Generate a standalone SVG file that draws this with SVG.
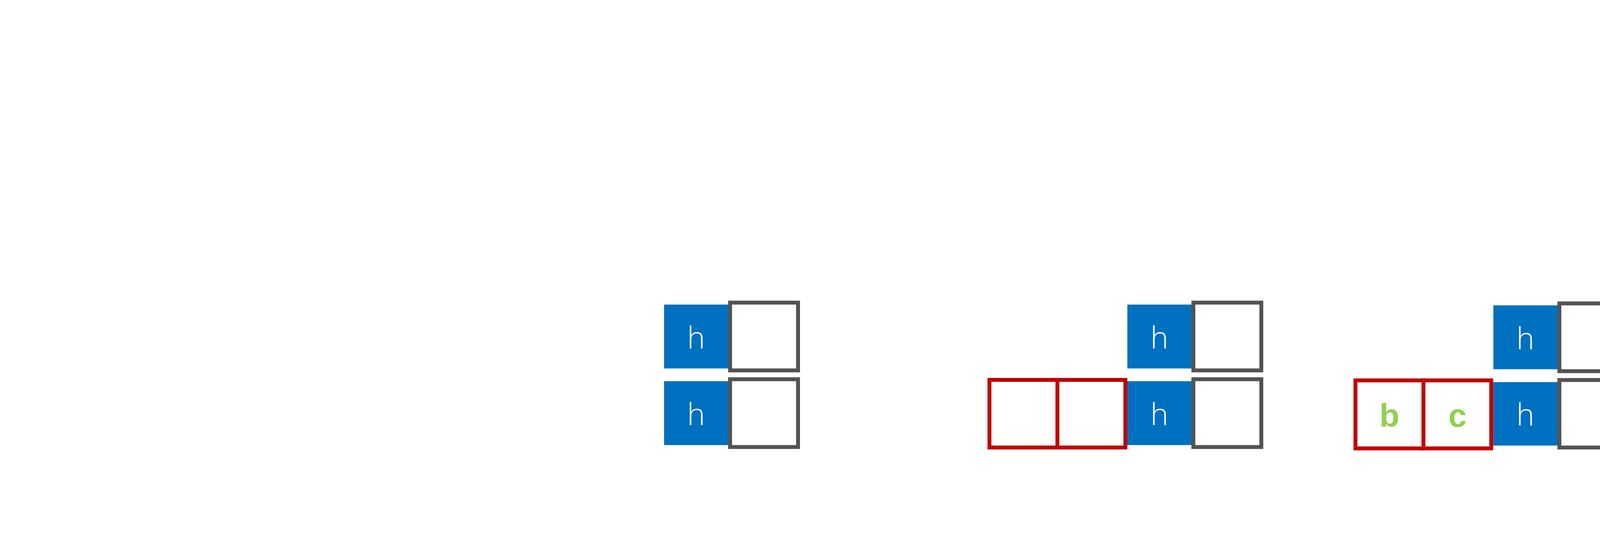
<svg xmlns="http://www.w3.org/2000/svg" width="4175" height="1397" viewBox="0 0 4175 1397">
<style>
.blue{fill:#0070C0;}
.gray{fill:#FFFFFF;stroke:#535353;stroke-width:10;}
.red{fill:#FFFFFF;stroke:#C00000;stroke-width:10;}
.h{font-family:"Open Sans","Liberation Sans",sans-serif;font-weight:300;font-size:78px;fill:#FFFFFF;text-anchor:middle;}
.g{font-family:"Liberation Sans",Arial,sans-serif;font-weight:bold;font-size:84px;fill:#92D050;text-anchor:middle;}
</style>
<rect x="0" y="0" width="4175" height="1397" fill="#FFFFFF"/>
<g id="group1">
  <g id="g1-h-top"><rect class="blue" x="1700" y="779.3" width="164" height="163.4"/><text class="h" x="1782" y="892">h</text></g>
  <g id="g1-box-top"><rect class="gray" x="1869" y="774.3" width="174" height="173.4"/></g>
  <g id="g1-h-bot"><rect class="blue" x="1700" y="975.3" width="164" height="163.4"/><text class="h" x="1782" y="1087.5">h</text></g>
  <g id="g1-box-bot"><rect class="gray" x="1869" y="970.3" width="174" height="173.4"/></g>
</g>
<g id="group2">
  <g id="g2-red-1"><rect class="red" x="2533" y="972" width="174" height="173"/></g>
  <g id="g2-red-2"><rect class="red" x="2707" y="972" width="174" height="173"/></g>
  <g id="g2-h-top"><rect class="blue" x="2886" y="779.3" width="164" height="163.4"/><text class="h" x="2968" y="892">h</text></g>
  <g id="g2-box-top"><rect class="gray" x="3055" y="774.3" width="174" height="173.4"/></g>
  <g id="g2-h-bot"><rect class="blue" x="2886" y="975.3" width="164" height="163.4"/><text class="h" x="2968" y="1087.5">h</text></g>
  <g id="g2-box-bot"><rect class="gray" x="3055" y="970.3" width="174" height="173.4"/></g>
</g>
<g id="group3">
  <g id="g3-red-b"><rect class="red" x="3470" y="973.3" width="174" height="174"/><text class="g" x="3557" y="1091.7">b</text></g>
  <g id="g3-red-c"><rect class="red" x="3644" y="973.3" width="173.7" height="174"/><text class="g" x="3731" y="1091.7">c</text></g>
  <g id="g3-h-top"><rect class="blue" x="3823" y="781.3" width="164" height="163.4"/><text class="h" x="3905" y="894">h</text></g>
  <g id="g3-box-top"><rect class="gray" x="3992" y="776.3" width="173.7" height="173.4"/></g>
  <g id="g3-h-bot"><rect class="blue" x="3823" y="977.7" width="164" height="162.3"/><text class="h" x="3905" y="1089">h</text></g>
  <g id="g3-box-bot"><rect class="gray" x="3992" y="972.3" width="173.7" height="172.7"/></g>
</g>
</svg>
